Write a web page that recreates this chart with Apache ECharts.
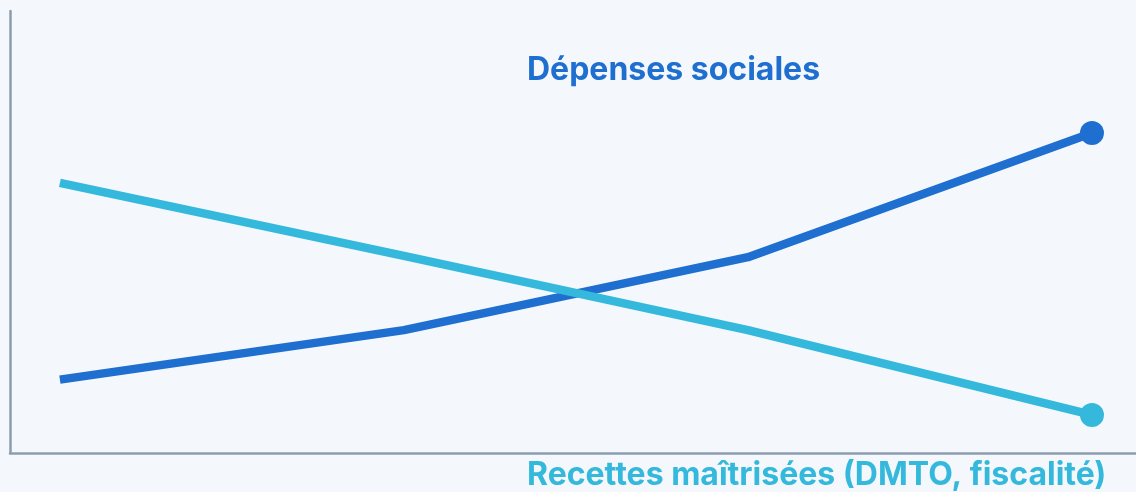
<!DOCTYPE html>
<html>
<head>
<meta charset="utf-8">
<style>
  html, body { margin: 0; padding: 0; background: #f4f8fc; }
  #chart { width: 1136px; height: 492px; }
</style>
<script src="https://cdn.jsdelivr.net/npm/echarts@6/dist/echarts.min.js"></script>
</head>
<body>
<div id="chart"></div>
<script>
// données
const periods = [0, 1, 2, 3]
const depensesSociales = [16.6, 27.8, 44.3, 72.4]
const recettesMaitrisees = [61.1, 44.6, 27.8, 8.6]
const labelDepenses = 'Dépenses sociales'
const labelRecettes = 'Recettes maîtrisées (DMTO, fiscalité)'

const myChart = echarts.init(document.getElementById('chart'))

const toPairs = (vals) => periods.map((p, i) => [p, vals[i]])
// point seulement au dernier
const lastDot = (val, params) => (params.dataIndex === periods.length - 1 ? 24 : 0)

const option = {
  backgroundColor: '#f4f8fc',
  animation: false,
  grid: {
    left: 10,
    right: 0,
    top: 11,
    bottom: 39
  },
  xAxis: {
    type: 'value',
    min: -0.145,
    max: 3.128,
    axisLine: {
      show: true,
      onZero: false,
      lineStyle: { color: '#8d9db1', width: 2.5 }
    },
    axisTick: { show: false },
    axisLabel: { show: false },
    splitLine: { show: false }
  },
  yAxis: {
    type: 'value',
    min: 0,
    max: 100,
    axisLine: {
      show: true,
      onZero: false,
      lineStyle: { color: '#8d9db1', width: 2.5 }
    },
    axisTick: { show: false },
    axisLabel: { show: false },
    splitLine: { show: false }
  },
  series: [
    {
      name: labelDepenses,
      type: 'line',
      data: toPairs(depensesSociales),
      symbol: 'circle',
      symbolSize: lastDot,
      showAllSymbol: true,
      lineStyle: { color: '#1f6fd0', width: 8.5, join: 'round' },
      itemStyle: { color: '#1f6fd0' }
    },
    {
      name: labelRecettes,
      type: 'line',
      data: toPairs(recettesMaitrisees),
      symbol: 'circle',
      symbolSize: lastDot,
      showAllSymbol: true,
      lineStyle: { color: '#34b8dc', width: 8.5, join: 'round' },
      itemStyle: { color: '#34b8dc' }
    }
  ],
  graphic: [
    {
      type: 'text',
      left: 527,
      top: 54,
      style: {
        text: labelDepenses,
        fill: '#1f6fd0',
        font: 'bold 32px Inter'
      }
    },
    {
      type: 'text',
      left: 527,
      top: 459,
      style: {
        text: labelRecettes,
        fill: '#34b8dc',
        font: 'bold 32px Inter'
      }
    }
  ]
}

myChart.setOption(option)
window.addEventListener('resize', () => {
  myChart.resize()
})
</script>
</body>
</html>
